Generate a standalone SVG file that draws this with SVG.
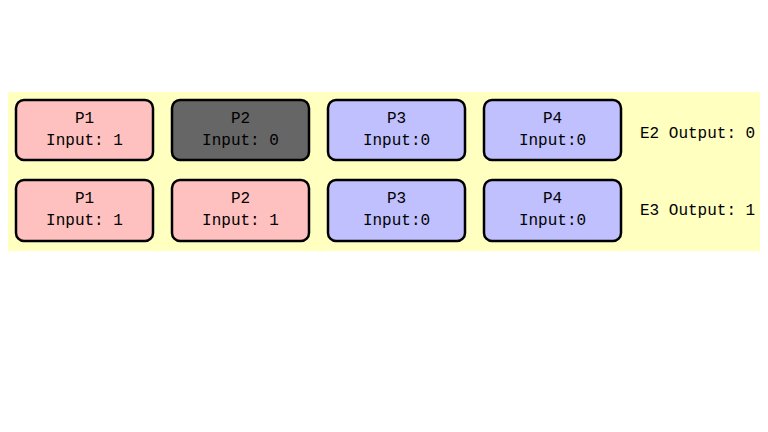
<svg xmlns="http://www.w3.org/2000/svg" width="768" height="432" viewBox="0 0 768 432">
<style>
.b{stroke:#000;stroke-width:2.5}
.pk{fill:#ffc0c0}.gr{fill:#666666}.bl{fill:#c0c0ff}
text{font-family:"Liberation Mono","Courier New",monospace;font-size:16px;fill:#000}
.c{text-anchor:middle}
</style>
<rect width="768" height="432" fill="#fff"/>
<rect id="bg" x="8" y="92" width="752" height="159" fill="#ffffc0"/>
<g id="connectors"/>
<g id="r1p1"><rect class="b pk" x="16" y="100" width="137" height="60" rx="8"/><text class="c" x="84.5" y="123">P1</text><text class="c" x="84.5" y="145">Input: 1</text></g>
<g id="r1p2"><rect class="b gr" x="172" y="100" width="137" height="60" rx="8"/><text class="c" x="240.5" y="123">P2</text><text class="c" x="240.5" y="145">Input: 0</text></g>
<g id="r1p3"><rect class="b bl" x="328" y="100" width="137" height="60" rx="8"/><text class="c" x="396.5" y="123">P3</text><text class="c" x="396.5" y="145">Input:0</text></g>
<g id="r1p4"><rect class="b bl" x="484" y="100" width="137" height="60" rx="8"/><text class="c" x="552.5" y="123">P4</text><text class="c" x="552.5" y="145">Input:0</text></g>
<g id="e2"><text x="640" y="138">E2 Output: 0</text></g>
<g id="r2p1"><rect class="b pk" x="16" y="180" width="137" height="61" rx="8"/><text class="c" x="84.5" y="203">P1</text><text class="c" x="84.5" y="225">Input: 1</text></g>
<g id="r2p2"><rect class="b pk" x="172" y="180" width="137" height="61" rx="8"/><text class="c" x="240.5" y="203">P2</text><text class="c" x="240.5" y="225">Input: 1</text></g>
<g id="r2p3"><rect class="b bl" x="328" y="180" width="137" height="61" rx="8"/><text class="c" x="396.5" y="203">P3</text><text class="c" x="396.5" y="225">Input:0</text></g>
<g id="r2p4"><rect class="b bl" x="484" y="180" width="137" height="61" rx="8"/><text class="c" x="552.5" y="203">P4</text><text class="c" x="552.5" y="225">Input:0</text></g>
<g id="e3"><text x="640" y="215">E3 Output: 1</text></g>
</svg>
